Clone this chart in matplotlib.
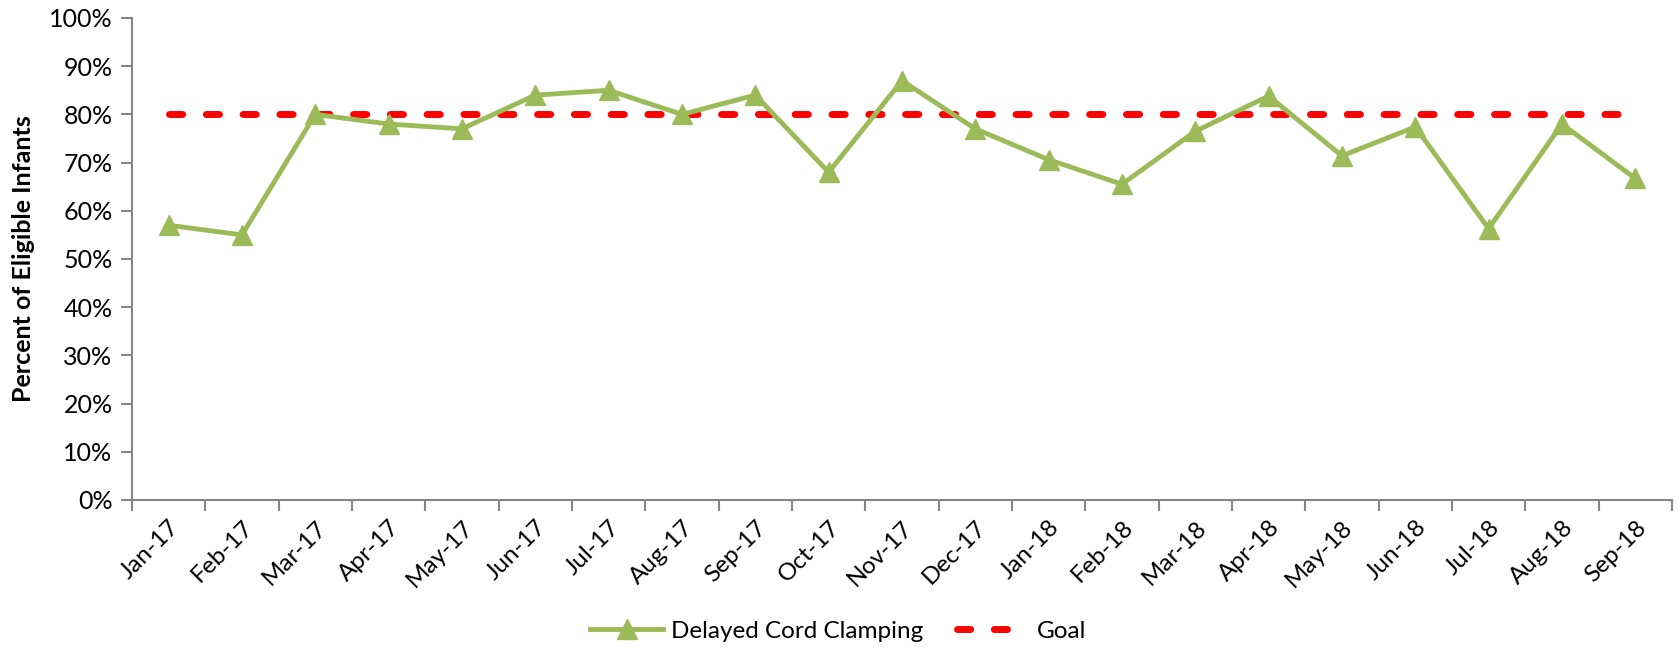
import matplotlib
matplotlib.use("Agg")
import matplotlib.pyplot as plt
from matplotlib.lines import Line2D
from matplotlib.ticker import FixedLocator, PercentFormatter

plt.rcParams['font.family'] = ['Lato', 'DejaVu Sans']

# data
months = ['Jan-17', 'Feb-17', 'Mar-17', 'Apr-17', 'May-17', 'Jun-17', 'Jul-17',
          'Aug-17', 'Sep-17', 'Oct-17', 'Nov-17', 'Dec-17', 'Jan-18', 'Feb-18',
          'Mar-18', 'Apr-18', 'May-18', 'Jun-18', 'Jul-18', 'Aug-18', 'Sep-18']
clamping = [57, 55, 80, 78, 77, 84, 85, 80, 84, 68, 87, 77, 70.6, 65.5,
            76.5, 83.8, 71.4, 77.4, 56.3, 78, 66.7]
goal = [80] * len(months)

green = '#9BBB59'
red = '#FF0000'
grey = '#868686'

fig = plt.figure(figsize=(16.77, 6.54), dpi=100)
ax = fig.add_axes([0.0787, 0.2355, 0.9183, 0.737])

x = list(range(len(months)))
ax.plot(x, clamping, color=green, lw=3.5, marker='^', markersize=14,
        zorder=3, label='Delayed Cord Clamping')
ax.plot(x, goal, color=red, lw=5, linestyle=(0, (1.9, 3.4)),
        dash_capstyle='round', zorder=2, label='Goal')

ax.set_xlim(-0.5, len(months) - 0.5)
ax.set_ylim(0, 100)
ax.yaxis.set_major_locator(FixedLocator(range(0, 101, 10)))
ax.yaxis.set_major_formatter(PercentFormatter(decimals=0))

ax.set_xticks(x)
ax.set_xticklabels(months, rotation=45, ha='right', rotation_mode='anchor')
ax.xaxis.set_minor_locator(FixedLocator([i - 0.5 for i in range(len(months) + 1)]))
ax.tick_params(axis='x', which='major', length=0, pad=12, labelsize=17.5)
ax.tick_params(axis='x', which='minor', length=8, width=1.5, color=grey)
ax.tick_params(axis='y', length=8, width=1.5, color=grey, labelsize=18, pad=6)

for s in ['top', 'right']:
    ax.spines[s].set_visible(False)
for s in ['left', 'bottom']:
    ax.spines[s].set_color(grey)
    ax.spines[s].set_linewidth(1.5)

ax.set_ylabel('Percent of Eligible Infants', fontsize=18, fontweight='bold', labelpad=10)

handles = [Line2D([], [], color=green, lw=3.5, marker='^', markersize=14),
           Line2D([], [], color=red, lw=5, linestyle=(0, (1.9, 3.4)), dash_capstyle='round')]
fig.legend(handles, ['Delayed Cord Clamping', 'Goal'], loc='lower center',
           bbox_to_anchor=(0.5, -0.015), ncol=2, frameon=False, fontsize=17.5,
           handlelength=3.0, columnspacing=1.4, handletextpad=0.3)

fig.savefig('out.png', dpi=100)
